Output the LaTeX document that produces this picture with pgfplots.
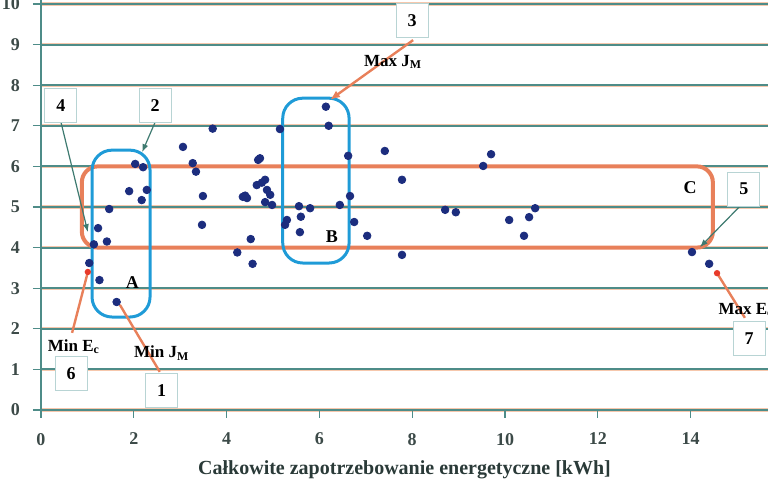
\documentclass[border=0pt]{standalone}
\usepackage{pgfplots}
\pgfplotsset{compat=1.18}
\usepackage{fontspec}
\setmainfont{Liberation Serif}
\usetikzlibrary{arrows.meta}
\definecolor{gridteal}{HTML}{4E8C88}
\definecolor{gridorange}{HTML}{F6C7AC}
\definecolor{orline}{HTML}{E8805A}
\definecolor{bluerect}{HTML}{1F9BD7}
\definecolor{navy}{HTML}{1C2D7E}
\definecolor{ticktext}{HTML}{3C4A48}
\definecolor{labeltext}{HTML}{2A3A38}
\definecolor{boxcol}{HTML}{B8D4D4}
\definecolor{arrteal}{HTML}{3E7A70}
\definecolor{reddot}{HTML}{E83A2A}
\begin{document}
\begin{tikzpicture}
\useasboundingbox (-20.5pt,-35pt) rectangle (363.5pt,205pt);
\clip (-20.5pt,-35pt) rectangle (363.5pt,205pt);
\begin{axis}[
  at={(0,0)}, anchor=south west,
  x=23.2pt, y=20.3pt,
  xmin=0, xmax=15.67, ymin=0, ymax=10.1,
  axis x line=bottom, axis y line=left,
  axis line style={-, draw=gridteal, line width=1.4pt},
  xtick={0,2,...,14}, ytick={0,1,...,10},
  tick align=outside, major tick length=4pt,
  tick style={gridteal, line width=0.6pt},
  ymajorgrids,
  major grid style={draw=gridorange, double=gridteal, double distance=1pt, line width=0.3pt},
  tick label style={font=\bfseries\fontsize{9}{10}\selectfont, text=ticktext},
  yticklabel style={xshift=-3pt},
  xticklabel style={yshift=-4pt},
  /pgf/number format/assume math mode=true,
  xlabel={Całkowite zapotrzebowanie energetyczne [kWh]},
  xlabel style={font=\bfseries\fontsize{10}{12}\selectfont, text=labeltext, yshift=-1pt},
  clip=false,
]
% regions
\draw[orline, line width=2pt, rounded corners=8pt] (axis cs:0.88,4.0) rectangle (axis cs:14.48,6.0);
\draw[bluerect, line width=1.5pt, rounded corners=10pt] (axis cs:1.1,2.29) rectangle (axis cs:2.35,6.4);
\draw[bluerect, line width=1.5pt, rounded corners=10pt] (axis cs:5.21,3.62) rectangle (axis cs:6.64,7.68);

\addplot[only marks, mark=*, mark size=1.9pt, color=navy] coordinates {
(1.04,3.62) (1.26,3.2) (1.63,2.66) (1.14,4.08) (1.42,4.15) (1.23,4.48)
(1.47,4.95) (1.9,5.39) (2.03,6.06) (2.2,5.98) (2.28,5.42) (2.17,5.17)
(3.06,6.48) (3.27,6.08) (3.34,5.87) (3.49,5.27) (3.47,4.56) (3.7,6.93)
(4.23,3.88) (4.35,5.25) (4.44,5.22) (4.40,5.28) (4.52,4.21) (4.56,3.6)
(4.65,5.54) (4.68,6.16) (4.72,6.2) (4.83,5.67) (4.76,5.6) (4.87,5.42)
(4.94,5.3) (4.83,5.12) (4.98,5.05) (5.15,6.92) (5.3,4.68) (5.26,4.56)
(5.56,5.02) (5.6,4.76) (5.58,4.38) (5.8,4.97) (6.14,7.47) (6.2,7.0)
(6.44,5.05) (6.62,6.26) (6.66,5.27) (6.75,4.63) (7.03,4.29) (7.41,6.38)
(7.78,5.67) (7.78,3.82) (8.71,4.93) (8.94,4.87) (9.53,6.01) (9.7,6.3)
(10.09,4.68) (10.41,4.29) (10.52,4.75) (10.65,4.97) (14.03,3.89) (14.4,3.6)
};

% region letters
\node[font=\bfseries\fontsize{9}{10}\selectfont] at (axis cs:1.97,3.15) {A};
\node[font=\bfseries\fontsize{9}{10}\selectfont] at (axis cs:6.27,4.26) {B};
\node[font=\bfseries\fontsize{9}{10}\selectfont] at (axis cs:13.99,5.47) {C};

% arrows
\draw[arrteal, line width=0.6pt, -{Latex[length=4pt,width=3pt]}] (axis cs:2.46,7.09) -- (axis cs:2.18,6.35);
\draw[arrteal, line width=0.6pt, -{Latex[length=4pt,width=3pt]}] (axis cs:0.43,7.09) -- (axis cs:1.01,4.38);
\draw[arrteal, line width=0.6pt, -{Latex[length=4pt,width=3pt]}] (axis cs:15.09,5.05) -- (axis cs:14.2,4.01);
\draw[orline, line width=1.2pt, -{Latex[length=5pt,width=4pt]}] (axis cs:8.02,9.11) -- (axis cs:6.23,7.64);
\draw[orline, line width=1.2pt] (axis cs:0.67,1.9) -- (axis cs:1.01,3.4);
\fill[reddot] (axis cs:1.01,3.4) circle (1.6pt);
\draw[orline, line width=1.2pt] (axis cs:2.56,0.94) -- (axis cs:1.7,2.59);
\draw[orline, line width=1.2pt] (axis cs:15.17,2.27) -- (axis cs:14.57,3.37);
\fill[reddot] (axis cs:14.57,3.37) circle (1.6pt);

% numbered boxes
\tikzset{numbox/.style={draw=boxcol, line width=0.5pt, fill=white, minimum width=16pt, minimum height=17pt, inner sep=0pt, font=\bfseries\fontsize{9}{10}\selectfont}}
\node[numbox] at (axis cs:2.46,7.51) {2};
\node[numbox] at (axis cs:0.43,7.51) {4};
\node[numbox] at (axis cs:8.0,9.6) {3};
\node[numbox] at (axis cs:15.15,5.44) {5};
\node[numbox] at (axis cs:0.65,0.89) {6};
\node[numbox] at (axis cs:2.6,0.49) {1};
\node[numbox] at (axis cs:15.26,1.77) {7};

% text labels
\tikzset{lab/.style={font=\bfseries\fontsize{8.5}{10}\selectfont, inner sep=1pt}}
\node[lab] at (axis cs:7.59,8.57) {Max J\textsubscript{M}};
\node[lab] at (axis cs:0.71,1.55) {Min E\textsubscript{c}};
\node[lab] at (axis cs:2.6,1.4) {Min J\textsubscript{M}};
\node[lab, anchor=west] at (axis cs:14.55,2.46) {Max E\textsubscript{c}};
\end{axis}
\end{tikzpicture}
\end{document}
